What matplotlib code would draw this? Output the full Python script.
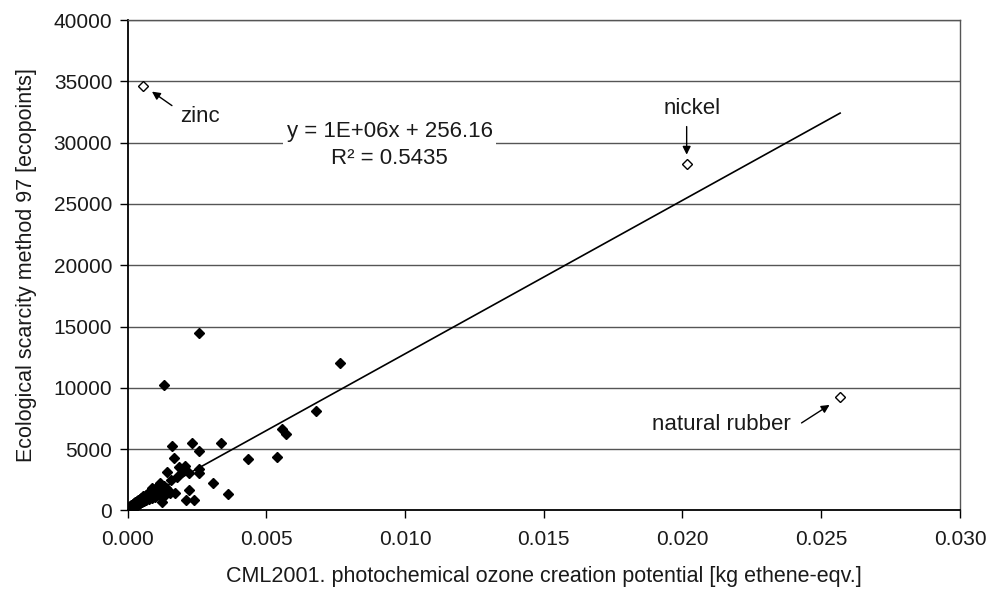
import numpy as np
import matplotlib
matplotlib.use('Agg')
import matplotlib.pyplot as plt

plt.rcParams['font.family'] = ['Liberation Sans', 'DejaVu Sans']

# filled points (processes)
proc_x = [0.00256, 0.00131, 0.00767, 0.00679, 0.00557, 0.00571, 0.00433, 0.00540,
          0.00161, 0.00232, 0.00338, 0.00256, 0.00167, 0.00187, 0.00208, 0.00142,
          0.00196, 0.00220, 0.00256, 0.00256, 0.00178, 0.00158, 0.00118, 0.00307,
          0.00362, 0.00220, 0.00172, 0.00130, 0.00124, 0.00212, 0.00238, 0.00106,
          0.00136, 0.00100, 0.00088, 0.00076, 0.00064,
          0.00000, 0.00003, 0.00005, 0.00006, 0.00008, 0.00010, 0.00011, 0.00013,
          0.00014, 0.00016, 0.00018, 0.00019, 0.00021, 0.00023, 0.00024, 0.00026,
          0.00028, 0.00029, 0.00031, 0.00033, 0.00034, 0.00036, 0.00038, 0.00040,
          0.00042, 0.00044, 0.00046, 0.00048, 0.00050, 0.00052, 0.00055, 0.00057,
          0.00060, 0.00062, 0.00065, 0.00068, 0.00070, 0.00073, 0.00076, 0.00080,
          0.00083, 0.00087, 0.00090, 0.00094, 0.00098, 0.00103, 0.00108, 0.00112,
          0.00115, 0.00120, 0.00125, 0.00133, 0.00140, 0.00148, 0.00153]
proc_y = [14470, 10260, 12060, 8130, 6670, 6260, 4180, 4330,
          5260, 5480, 5480, 4870, 4280, 3580, 3630, 3170,
          3170, 3030, 3360, 3030, 2760, 2490, 2220, 2270,
          1350, 1670, 1400, 1670, 720, 860, 860, 1540,
          1270, 1130, 1810, 1400, 1130,
          60, 150, 40, 260, 120, 330, 200, 80,
          420, 250, 520, 160, 380, 610, 280, 470,
          700, 350, 560, 790, 420, 640, 880, 500,
          740, 960, 590, 830, 1050, 680, 920, 1150,
          780, 1010, 1250, 870, 1350, 1100, 950, 1480,
          1200, 1050, 1600, 1320, 1750, 1420, 1950, 1250,
          2050, 1800, 1550, 2000, 1850, 1600, 1450]

# open points (labelled outliers)
out_names = ['zinc', 'nickel', 'natural rubber']
out_x = [0.00054, 0.02017, 0.02568]
out_y = [34600, 28250, 9220]

# trendline as printed by the spreadsheet
slope = 1.252e6
intercept = 256.16
eq_text = 'y = 1E+06x + 256.16'
r2_text = 'R² = 0.5435'

xticks = [0.000, 0.005, 0.010, 0.015, 0.020, 0.025, 0.030]
yticks = [0, 5000, 10000, 15000, 20000, 25000, 30000, 35000, 40000]

fig = plt.figure(figsize=(9.98, 5.94), dpi=100)
ax = fig.add_axes([0.1278, 0.1406, 0.8341, 0.8257])

ax.set_xlim(0, 0.030)
ax.set_ylim(0, 40000)
ax.set_xticks(xticks)
ax.set_xticklabels(['%.3f' % t for t in xticks])
ax.set_yticks(yticks)
ax.set_yticklabels([str(t) for t in yticks])
ax.tick_params(labelsize=15, length=6, width=1, color='black', labelcolor='#1a1a1a')
ax.tick_params(axis='x', pad=8)
ax.tick_params(axis='y', pad=5)

for y in yticks[1:]:
    ax.axhline(y, color='#555555', lw=1, zorder=1)

for s in ['left', 'bottom']:
    ax.spines[s].set_color('black')
    ax.spines[s].set_linewidth(1.3)
for s in ['top', 'right']:
    ax.spines[s].set_color('#555555')
    ax.spines[s].set_linewidth(1)

xl = np.array([0, max(out_x)])
ax.plot(xl, slope * xl + intercept, color='black', lw=1.2, zorder=2)

ax.plot(proc_x, proc_y, 'D', color='black', ms=5.5, zorder=3)
ax.plot(out_x, out_y, 'D', mfc='white', mec='black', mew=1, ms=5, zorder=3)

ax.text(0.00945, 29800, eq_text + '\n' + r2_text, ha='center', va='center',
        fontsize=16, color='#1a1a1a', linespacing=1.4, zorder=4,
        bbox=dict(facecolor='white', edgecolor='none', pad=2.5))

arrow = dict(arrowstyle='-|>', color='black', lw=1, mutation_scale=12, shrinkA=0, shrinkB=0)
ax.annotate('', xy=(0.00088, 34160), xytext=(0.0016, 33020), arrowprops=arrow)
ax.text(0.00261, 32120, out_names[0], ha='center', va='center', fontsize=16, color='#1a1a1a')
ax.annotate('', xy=(0.02015, 29020), xytext=(0.02015, 31310), arrowprops=arrow)
ax.text(0.02035, 32820, out_names[1], ha='center', va='center', fontsize=16, color='#1a1a1a')
ax.annotate('', xy=(0.0253, 8610), xytext=(0.02429, 7140), arrowprops=arrow)
ax.text(0.02141, 6980, out_names[2], ha='center', va='center', fontsize=16, color='#1a1a1a')

ax.set_xlabel('CML2001. photochemical ozone creation potential [kg ethene-eqv.]',
              fontsize=15.5, color='#1a1a1a', labelpad=12)
ax.set_ylabel('Ecological scarcity method 97 [ecopoints]', fontsize=15.5,
              color='#1a1a1a', labelpad=12)

fig.savefig('out.png', dpi=100)
